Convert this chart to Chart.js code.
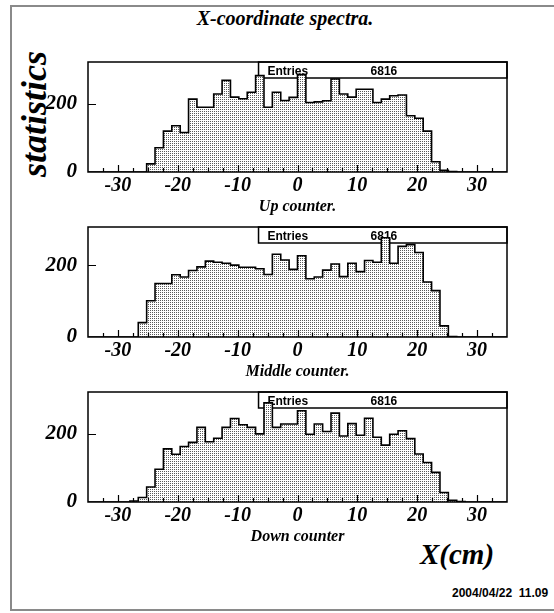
<!DOCTYPE html>
<html><head><meta charset="utf-8">
<script src="https://cdn.jsdelivr.net/npm/chart.js@4"></script>
<style>
html,body{margin:0;padding:0;background:#fff;}
body{width:554px;height:613px;position:relative;overflow:hidden;}
.pad{position:absolute;left:10px;top:5px;width:600px;height:606px;border:2px solid #8a8a8a;box-sizing:border-box;}
canvas{position:absolute;left:0;}
.t{position:absolute;font-family:'Liberation Serif',serif;font-weight:bold;font-style:italic;color:#000;white-space:nowrap;line-height:1;}
.s{position:absolute;font-family:'Liberation Sans',sans-serif;font-weight:bold;color:#000;white-space:pre;line-height:1;}
</style></head><body>
<div class="pad"></div>
<div class="t" style="left:0;width:570px;text-align:center;top:8px;font-size:20px;">X-coordinate spectra.</div>
<div class="t" style="left:34px;top:114px;font-size:36px;transform:translate(-50%,-50%) rotate(-90deg);">statistics</div>
<div class="t" style="left:420px;top:540px;font-size:29px;">X(cm)</div>
<div class="s" style="left:452px;top:587px;font-size:12px;">2004/04/22  11.09</div>
<canvas id="c0" width="554" height="165" style="top:55px"></canvas>
<canvas id="c1" width="554" height="165" style="top:220px"></canvas>
<canvas id="c2" width="554" height="165" style="top:385px"></canvas>
<script>
// bin edges (cm): 50 bins of 1.4 cm from -35 to 35
const binEdges = [-35, -33.6, -32.2, -30.8, -29.4, -28, -26.6, -25.2, -23.8, -22.4,
  -21, -19.6, -18.2, -16.8, -15.4, -14, -12.6, -11.2, -9.8, -8.4,
  -7, -5.6, -4.2, -2.8, -1.4, 0, 1.4, 2.8, 4.2, 5.6,
  7, 8.4, 9.8, 11.2, 12.6, 14, 15.4, 16.8, 18.2, 19.6,
  21, 22.4, 23.8, 25.2, 26.6, 28, 29.4, 30.8, 32.2, 33.6, 35];

const upCounts = [0, 0, 0, 0, 0, 0, 0, 24, 71, 120,
  136, 116, 214, 190, 190, 229, 269, 220, 215, 234,
  283, 190, 234, 210, 219, 286, 204, 206, 209, 273,
  229, 220, 243, 243, 204, 214, 224, 226, 165, 158,
  120, 30, 5, 1, 0, 0, 0, 0, 0, 0];

const middleCounts = [0, 0, 0, 0, 0, 0, 40, 101, 149, 149,
  173, 167, 185, 195, 211, 208, 205, 200, 194, 194,
  190, 174, 230, 214, 188, 226, 162, 167, 186, 203,
  168, 205, 182, 213, 208, 276, 205, 252, 257, 235,
  153, 129, 31, 1, 0, 0, 0, 0, 0, 0];

const downCounts = [0, 0, 0, 0, 0, 3, 13, 44, 96, 156,
  140, 163, 175, 219, 177, 187, 219, 245, 227, 219,
  200, 291, 219, 229, 229, 268, 199, 229, 207, 261,
  194, 230, 196, 246, 190, 167, 199, 209, 186, 141,
  116, 87, 28, 5, 1, 0, 0, 0, 0, 0];

const panelCounts = [upCounts, middleCounts, downCounts];
const panelLabels = ['Up counter.', 'Middle counter.', 'Down counter'];
const panelEntries = [6816, 6816, 6816];
const panelYMax = [323, 306, 323];
const xTickValues = [-30, -20, -10, 0, 10, 20, 30];
const yTickValues = [0, 200];

// dotted fill pattern
const pc = document.createElement('canvas');
pc.width = 2; pc.height = 2;
const pctx = pc.getContext('2d');
pctx.fillStyle = '#fff'; pctx.fillRect(0, 0, 2, 2);
pctx.fillStyle = '#5a5a5a'; pctx.fillRect(0, 0, 1, 1);
const pattern = pctx.createPattern(pc, 'repeat');

const serif = 'Liberation Serif';

function makePlugin(idx) {
  return {
    id: 'rootFrame' + idx,
    beforeDatasetsDraw(chart) {
      const ctx = chart.ctx, a = chart.chartArea;
      const bx = a.left + 0.407 * (a.right - a.left);
      ctx.save();
      ctx.fillStyle = '#fff';
      ctx.fillRect(bx, a.top, a.right - bx, 16);
      ctx.strokeStyle = '#000'; ctx.lineWidth = 1.5;
      ctx.strokeRect(bx, a.top, a.right - bx, 16);
      ctx.fillStyle = '#000';
      ctx.font = 'bold 12px "Liberation Sans"';
      ctx.textBaseline = 'alphabetic';
      ctx.fillText('Entries', bx + 9, a.top + 13);
      ctx.fillText(String(panelEntries[idx]), bx + 112, a.top + 13);
      ctx.restore();
    },
    afterDatasetsDraw(chart) {
      const ctx = chart.ctx, a = chart.chartArea;
      const xs = chart.scales.x, ys = chart.scales.y;
      ctx.save();
      ctx.strokeStyle = '#000';
      ctx.lineWidth = 1.5;
      ctx.strokeRect(a.left, a.top, a.right - a.left, a.bottom - a.top);
      ctx.lineWidth = 1.2;
      ctx.beginPath();
      for (let v = xs.min + 2.5; v < xs.max; v += 2.5) {
        const px = Math.round(xs.getPixelForValue(v)) + 0.5;
        const major = Math.abs(v % 10) < 1e-6;
        ctx.moveTo(px, a.bottom);
        ctx.lineTo(px, a.bottom - (major ? 7 : 4));
      }
      for (const v of yTickValues) {
        if (v === 0) continue;
        const py = Math.round(ys.getPixelForValue(v)) + 0.5;
        ctx.moveTo(a.left, py);
        ctx.lineTo(a.left + 8, py);
      }
      ctx.stroke();
      ctx.restore();
    }
  };
}

panelCounts.forEach((counts, idx) => {
  const pts = counts.map((c, k) => ({x: binEdges[k], y: c}));
  pts.push({x: binEdges[binEdges.length - 1], y: counts[counts.length - 1]});
  new Chart(document.getElementById('c' + idx), {
    type: 'line',
    data: {
      datasets: [{
        data: pts,
        stepped: 'before',
        borderColor: '#000',
        borderWidth: 1.6,
        backgroundColor: pattern,
        fill: 'origin',
        pointRadius: 0,
        tension: 0
      }]
    },
    options: {
      responsive: false,
      animation: false,
      events: [],
      layout: {padding: {top: 7, right: 47, bottom: 0, left: 0}},
      plugins: {legend: {display: false}, tooltip: {enabled: false}},
      scales: {
        x: {
          type: 'linear', min: -35, max: 35,
          afterBuildTicks: s => { s.ticks = xTickValues.map(v => ({value: v})); },
          afterFit: s => { s.height = 48; s.paddingLeft = 0; s.paddingRight = 0; },
          grid: {display: false, drawTicks: false},
          border: {display: false},
          ticks: {
            font: {family: serif, size: 20, weight: 'bold', style: 'italic'},
            color: '#000', padding: 2, maxRotation: 0, autoSkip: false,
            callback: v => String(v)
          },
          title: {
            display: true, text: panelLabels[idx], color: '#000',
            font: {family: serif, size: 16, weight: 'bold', style: 'italic'},
            padding: {top: 0, bottom: 4}
          }
        },
        y: {
          type: 'linear', min: 0, max: panelYMax[idx],
          afterBuildTicks: s => { s.ticks = yTickValues.map(v => ({value: v})); },
          afterFit: s => { s.width = 88; s.paddingTop = 0; s.paddingBottom = 0; },
          grid: {display: false, drawTicks: false},
          border: {display: false},
          ticks: {
            font: {family: serif, size: 21, weight: 'bold', style: 'italic'},
            color: '#000', padding: 11,
            callback: v => String(v)
          }
        }
      }
    },
    plugins: [makePlugin(idx)]
  });
});
</script>
</body></html>
